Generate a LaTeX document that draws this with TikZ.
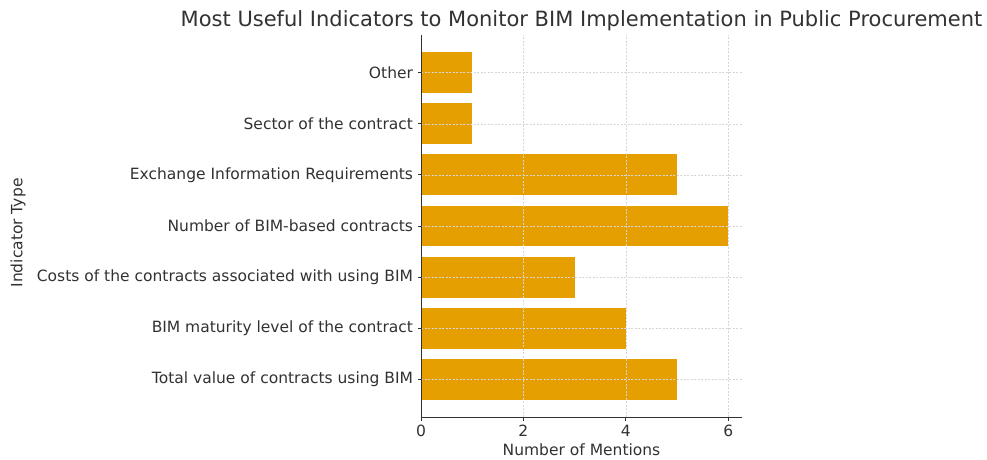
\documentclass[tikz,border=0pt]{standalone}
\usepackage{fontspec}
\setmainfont{DejaVu Sans}
\usetikzlibrary{positioning}
\definecolor{barorange}{RGB}{230,159,0}
\definecolor{gridgrey}{RGB}{215,215,215}
\definecolor{inkgrey}{RGB}{50,50,50}

\begin{document}
\begin{tikzpicture}[x=1pt,y=1pt]
\tikzstyle{bar}=[fill=barorange,draw=none]
\tikzstyle{gridline}=[gridgrey,dashed,dash pattern=on 2pt off 1.5pt,line width=0.6pt]
\tikzstyle{spine}=[inkgrey,line width=1pt]
\tikzstyle{ticklabel}=[text=inkgrey,font=\fontsize{15.5}{18}\selectfont,inner sep=0pt]
\useasboundingbox[fill=white] (0,0) rectangle (987,459);

\node[text=inkgrey,font=\fontsize{21}{25}\selectfont] (title) at (581.5,438) {Most Useful Indicators to Monitor BIM Implementation in Public Procurement};

\begin{scope}[shift={(421,79.7)},x=51.2pt,y=51.1pt]
% bars
\path[bar] (0,-0.4) rectangle (5,0.4);
\path[bar] (0,0.6) rectangle (4,1.4);
\path[bar] (0,1.6) rectangle (3,2.4);
\path[bar] (0,2.6) rectangle (6,3.4);
\path[bar] (0,3.6) rectangle (5,4.4);
\path[bar] (0,4.6) rectangle (1,5.4);
\path[bar] (0,5.6) rectangle (1,6.4);

% grid
\draw[gridline] (0,0) -- (6.27,0);
\draw[gridline] (0,1) -- (6.27,1);
\draw[gridline] (0,2) -- (6.27,2);
\draw[gridline] (0,3) -- (6.27,3);
\draw[gridline] (0,4) -- (6.27,4);
\draw[gridline] (0,5) -- (6.27,5);
\draw[gridline] (0,6) -- (6.27,6);
\draw[gridline] (2,-0.74) -- (2,6.74);
\draw[gridline] (4,-0.74) -- (4,6.74);
\draw[gridline] (6,-0.74) -- (6,6.74);

% axes
\coordinate (origin) at (0,-0.74);
\coordinate (ytop) at (0,6.74);
\coordinate (xend) at (6.27,-0.74);
\draw[spine] (ytop) -- (origin) -- (xend);

% y ticks and labels
\draw[spine] (0,0) -- ++(-3.5pt,0) node[ticklabel,left=4pt] (lab0) {Total value of contracts using BIM};
\draw[spine] (0,1) -- ++(-3.5pt,0) node[ticklabel,left=4pt] (lab1) {BIM maturity level of the contract};
\draw[spine] (0,2) -- ++(-3.5pt,0) node[ticklabel,left=4pt] (lab2) {Costs of the contracts associated with using BIM};
\draw[spine] (0,3) -- ++(-3.5pt,0) node[ticklabel,left=4pt] (lab3) {Number of BIM-based contracts};
\draw[spine] (0,4) -- ++(-3.5pt,0) node[ticklabel,left=4pt] (lab4) {Exchange Information Requirements};
\draw[spine] (0,5) -- ++(-3.5pt,0) node[ticklabel,left=4pt] (lab5) {Sector of the contract};
\draw[spine] (0,6) -- ++(-3.5pt,0) node[ticklabel,left=4pt] (lab6) {Other};

% x ticks and labels
\draw[spine] (0,-0.74) -- ++(0,-3.5pt) node[ticklabel,below=4pt] (x0) {0};
\draw[spine] (2,-0.74) -- ++(0,-3.5pt) node[ticklabel,below=4pt] (x2) {2};
\draw[spine] (4,-0.74) -- ++(0,-3.5pt) node[ticklabel,below=4pt] (x4) {4};
\draw[spine] (6,-0.74) -- ++(0,-3.5pt) node[ticklabel,below=4pt] (x6) {6};
\end{scope}

\node[ticklabel] (xlabel) at (581.5,9) {Number of Mentions};
\node[ticklabel,rotate=90] (ylabel) at (18,226) {Indicator Type};
\end{tikzpicture}
\end{document}
